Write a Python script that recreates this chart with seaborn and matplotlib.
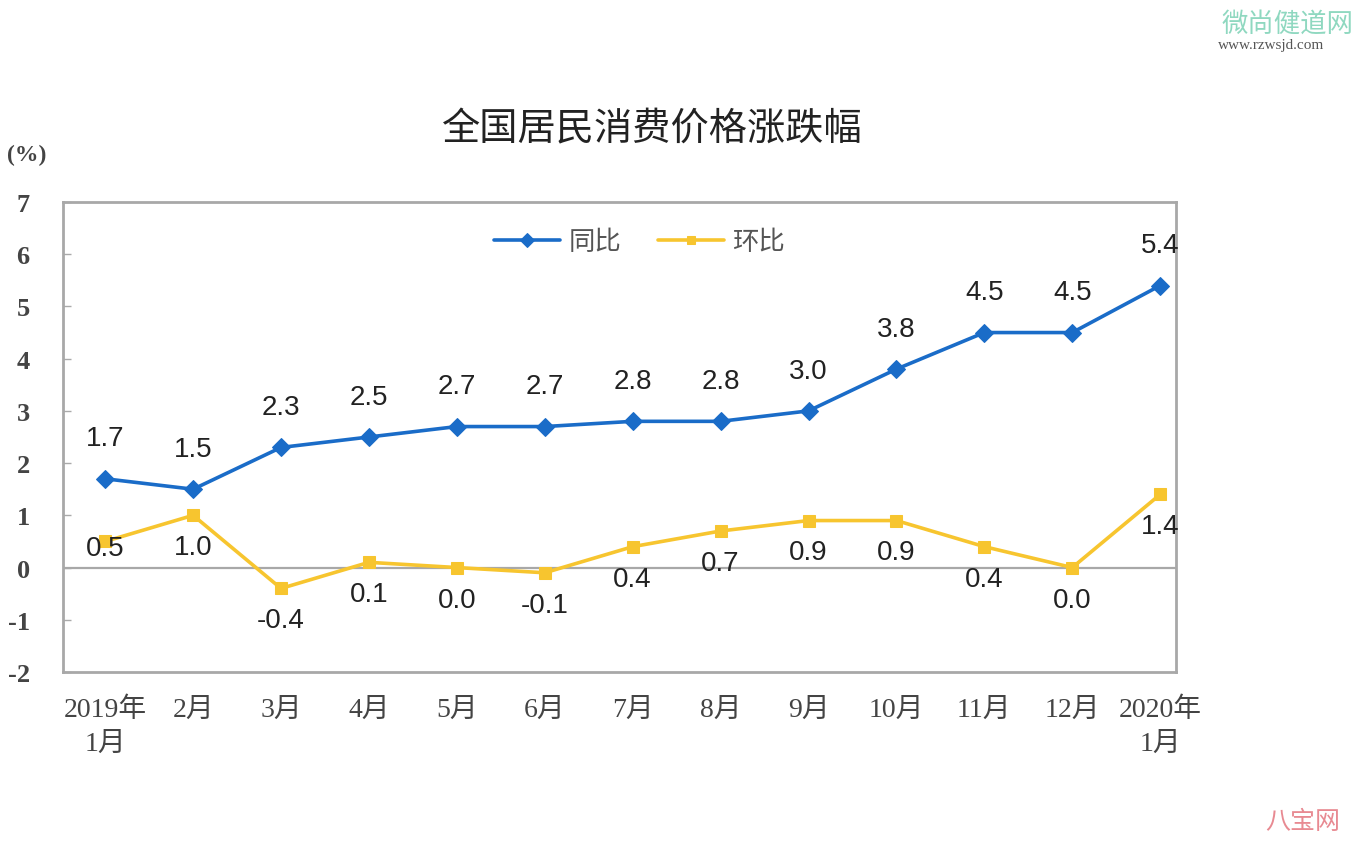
import pandas as pd
import seaborn as sns
import matplotlib.pyplot as plt

# data
months = ['2019年\n1月', '2月', '3月', '4月', '5月', '6月', '7月', '8月', '9月',
          '10月', '11月', '12月', '2020年\n1月']
yoy = [1.7, 1.5, 2.3, 2.5, 2.7, 2.7, 2.8, 2.8, 3.0, 3.8, 4.5, 4.5, 5.4]
mom = [0.5, 1.0, -0.4, 0.1, 0.0, -0.1, 0.4, 0.7, 0.9, 0.9, 0.4, 0.0, 1.4]

df = pd.DataFrame({'idx': range(len(months)), 'month': months, '同比': yoy, '环比': mom})

sns.set_theme(style='white')
plt.rcParams['font.family'] = ['Liberation Serif', 'Noto Sans CJK SC', 'DejaVu Sans']
plt.rcParams['axes.unicode_minus'] = False
cjk = ['Noto Sans CJK SC', 'DejaVu Sans']

blue = '#1a6cc8'
yellow = '#f7c52f'

fig = plt.figure(figsize=(13.56, 8.54), dpi=100)
ax = fig.add_axes([63/1356, 1-673/854, (1176-63)/1356, (673-203)/854])

ax.axhline(0, color='#a8a8a8', lw=1.6, zorder=1)

sns.lineplot(data=df, x='idx', y='同比', ax=ax, color=blue, lw=2.6, marker='D',
             markersize=9, markeredgecolor=blue, label='同比', zorder=3)
sns.lineplot(data=df, x='idx', y='环比', ax=ax, color=yellow, lw=2.6, marker='s',
             markersize=8, markeredgecolor=yellow, label='环比', zorder=3)

# value labels
for i, v in enumerate(yoy):
    ax.annotate(f'{v:.1f}', (i, v), xytext=(0, 29), textcoords='offset points',
                ha='center', va='center', fontsize=20, family='Liberation Sans', color='#222222')
for i, v in enumerate(mom):
    off = -5 if i == 0 else -23
    ax.annotate(f'{v:.1f}', (i, v), xytext=(0, off), textcoords='offset points',
                ha='center', va='center', fontsize=20, family='Liberation Sans', color='#222222')

ax.set_xlim(-0.48, 12.18)
ax.set_ylim(-2, 7)
ax.set_yticks(range(-2, 8))
ax.set_xticks(range(len(months)))
ax.set_xticklabels(months, fontsize=20, color='#444444', linespacing=1.45)
ax.tick_params(axis='y', direction='in', length=6, width=1, color='#aaaaaa',
               labelsize=19, labelcolor='#444444', pad=24, left=True)
ax.tick_params(axis='x', length=0, pad=18)
for lbl in ax.get_yticklabels():
    lbl.set_fontweight('bold')
ax.set_xlabel('')
ax.set_ylabel('')

for s in ax.spines.values():
    s.set_color('#a8a8a8')
    s.set_linewidth(2)

leg = ax.legend(loc='upper center', bbox_to_anchor=(0.518, 0.995), ncol=2, frameon=False,
                prop={'family': cjk, 'size': 19}, handlelength=2.5, columnspacing=1.4,
                handletextpad=0.3, markerscale=0.75)
for t in leg.get_texts():
    t.set_color('#555555')

fig.text(652/1356, 1-130/854, '全国居民消费价格涨跌幅', ha='center', va='center',
         fontsize=27.5, family=cjk, color='#222222')
fig.text(27/1356, 1-155/854, '(%)', ha='center', va='center', fontsize=17,
         fontweight='bold', color='#444444')

# watermarks
fig.text(1222/1356, 1-24/854, '微尚健道网', ha='left', va='center', fontsize=19,
         family=cjk, color='#8fd8c0')
fig.text(1218/1356, 1-46/854, 'www.rzwsjd.com', ha='left', va='center', fontsize=11,
         family='Liberation Serif', color='#555555')
fig.text(1265/1356, 1-822/854, '八宝网', ha='left', va='center', fontsize=18,
         family=cjk, color='#e88a92')

fig.savefig('out.png', dpi=100)
